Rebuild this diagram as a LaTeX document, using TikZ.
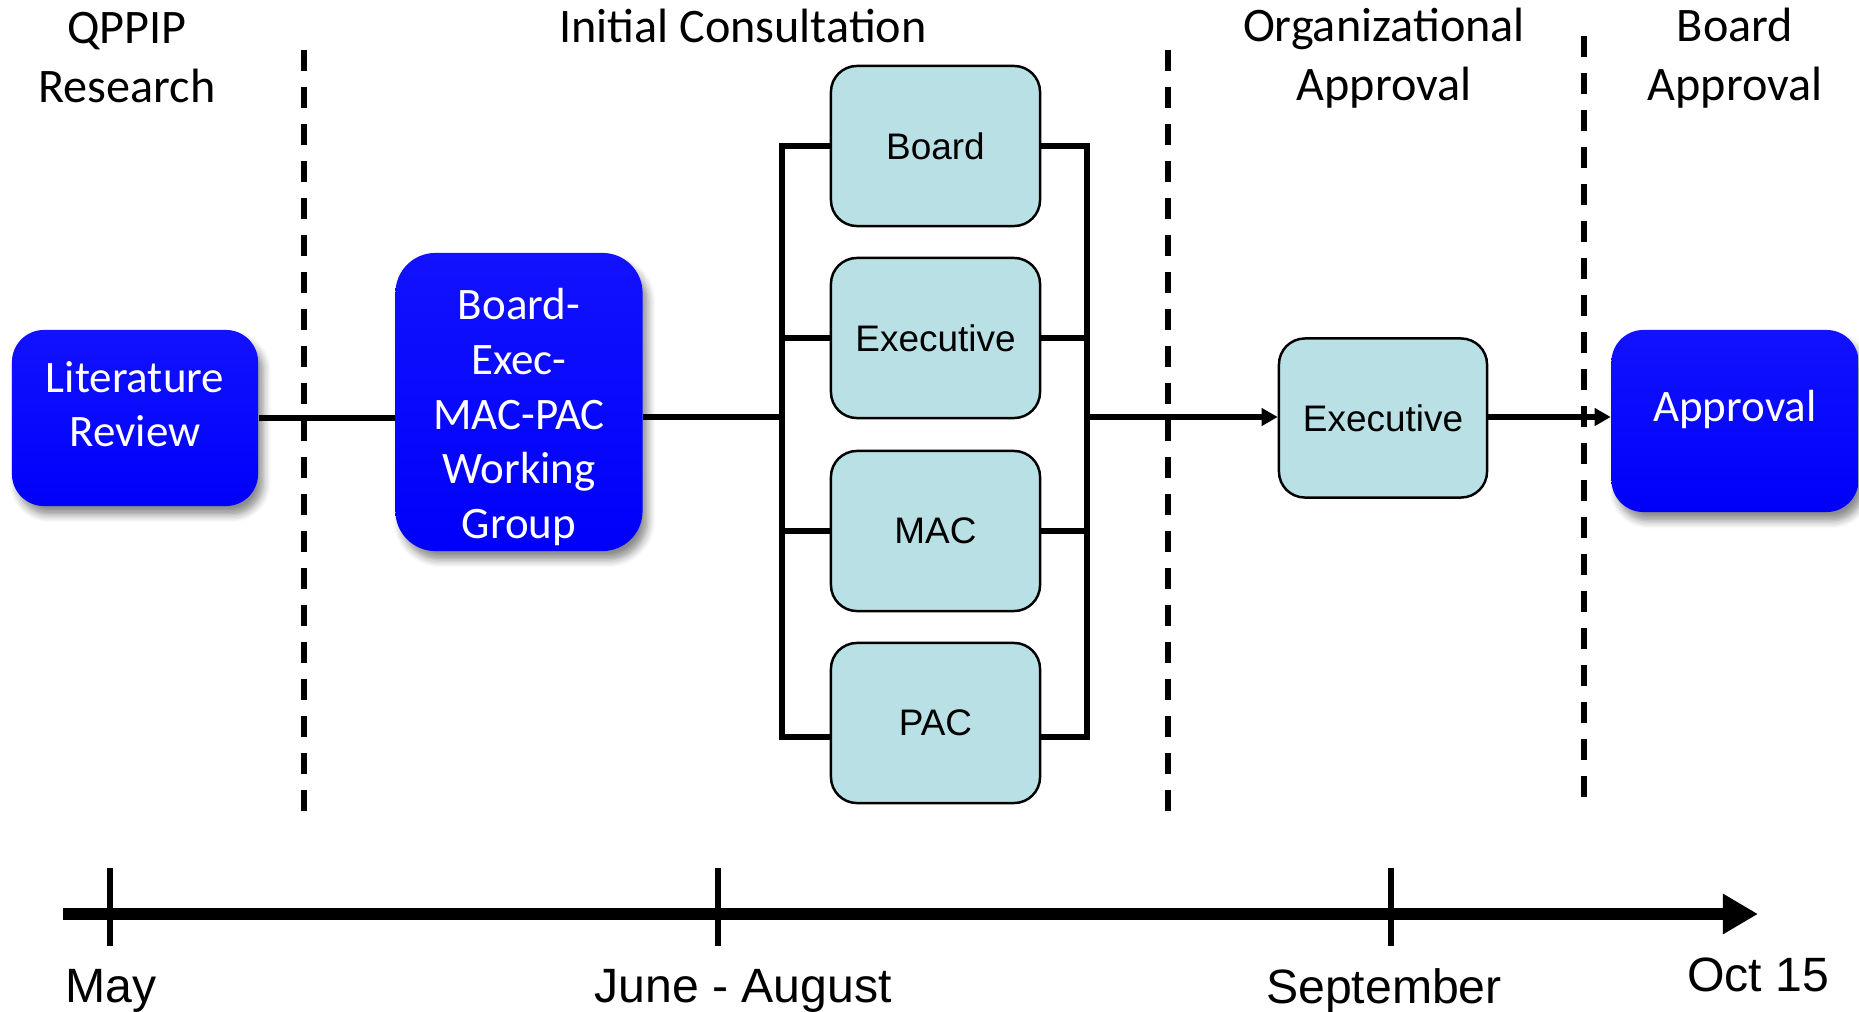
\documentclass[tikz,border=0pt]{standalone}
\usepackage{fontspec}
\setmainfont{Liberation Sans}
\newfontfamily\calib{Carlito}
\usetikzlibrary{arrows.meta,shadows.blur}
\definecolor{boxblue}{RGB}{0,0,250}
\definecolor{boxbluetop}{RGB}{18,18,255}
\definecolor{paleteal}{RGB}{185,224,228}

\begin{document}
\begin{tikzpicture}[x=0.01cm,y=-0.01cm,
  bluebox/.style={rectangle, rounded corners=0.32cm, top color=boxbluetop, bottom color=boxblue,
    inner sep=0pt,
    blur shadow={shadow xshift=1.5pt, shadow yshift=-2.5pt, shadow blur steps=6, shadow opacity=45}},
  bluetext/.style={text=white, font=\calib\fontsize{12.8}{15.5}\selectfont, align=center, inner sep=0pt},
  tealbox/.style={rectangle, rounded corners=0.26cm, draw=black, line width=0.7pt, fill=paleteal,
    font=\fontsize{10.5}{12}\selectfont, minimum width=2.09cm, minimum height=1.6cm, inner sep=0pt},
  link/.style={line width=1.5pt, line join=miter},
  flow/.style={line width=1.5pt, -{Triangle[length=0.16cm, width=0.17cm]}},
  divider/.style={line width=1.45pt, dash pattern=on 0.21cm off 0.16cm},
  phase/.style={font=\calib\fontsize{13.7}{16.8}\selectfont, align=center},
  month/.style={font=\fontsize{13.7}{16}\selectfont},
  tick/.style={line width=1.8pt},
]
\useasboundingbox (0,0) rectangle (1859,1012);

% phase headings
\node[phase] (hq) at (127,58) {QPPIP\\Research};
\node[phase] (hi) at (743,26) {Initial Consultation};
\node[phase] (ho) at (1384,58) {Organizational\\Approval};
\node[phase] (hb) at (1735,58) {Board\\Approval};

% phase dividers
\coordinate (d1t) at (304,50);   \coordinate (d1b) at (304,818);
\coordinate (d2t) at (1168,50);  \coordinate (d2b) at (1168,818);
\coordinate (d3t) at (1584,36);  \coordinate (d3b) at (1584,803);
\draw[divider] (d1t) -- (d1b);
\draw[divider] (d2t) -- (d2b);
\draw[divider] (d3t) -- (d3b);

% process boxes
\node[bluebox, minimum width=2.46cm, minimum height=1.76cm] (lit) at (135,418) {};
\node[bluetext] (littext) at (135,404) {Literature\\Review};
\node[bluebox, minimum width=2.47cm, minimum height=2.98cm, rounded corners=0.4cm] (wg) at (519,402) {};
\node[bluetext] (wgtext) at (519,417) {Board-\\Exec-\\MAC-PAC\\Working\\Group};
\node[tealbox] (board) at (935.5,146) {Board};
\node[tealbox] (exec)  at (935.5,338) {Executive};
\node[tealbox] (mac)   at (935.5,531) {MAC};
\node[tealbox] (pac)   at (935.5,723) {PAC};
\node[tealbox, minimum width=2.08cm, minimum height=1.59cm] (exec2) at (1383,418) {Executive};
\node[bluebox, minimum width=2.47cm, minimum height=1.82cm] (appr) at (1735,421) {};
\node[bluetext] (apprtext) at (1735,409) {Approval};

% connectors
\coordinate (busL) at (782,417);
\coordinate (busR) at (1087,417);
\coordinate (busLt) at (782,146);
\coordinate (busLb) at (782,737);
\coordinate (busRt) at (1087,146);
\coordinate (busRb) at (1087,737);

\draw[link] (lit.east) -- (lit.east -| wg.west);
\draw[link] (wg.east |- busL) -- (busL);
\draw[link] (board.west) -- (busLt) -- (busLb) -- (busLb -| pac.west);
\draw[link] (exec.west) -- (exec.west -| busL);
\draw[link] (mac.west) -- (mac.west -| busL);
\draw[link] (board.east) -- (busRt) -- (busRb) -- (busRb -| pac.east);
\draw[link] (exec.east) -- (exec.east -| busR);
\draw[link] (mac.east) -- (mac.east -| busR);
\draw[flow] (busR) -- (busR -| exec2.west);
\draw[flow] (exec2.east |- busR) -- (busR -| appr.west);

% timeline
\coordinate (t0) at (63,914);
\coordinate (t1) at (1758,914);
\draw[line width=0.12cm, -{Triangle[length=0.35cm, width=0.38cm]}] (t0) -- (t1);
\coordinate (k1t) at (110,868);  \coordinate (k1b) at (110,946);
\coordinate (k2t) at (718,868);  \coordinate (k2b) at (718,946);
\coordinate (k3t) at (1391,868); \coordinate (k3b) at (1391,946);
\draw[tick] (k1t) -- (k1b);
\draw[tick] (k2t) -- (k2b);
\draw[tick] (k3t) -- (k3b);

\node[month] (may) at (111,991) {May};
\node[month] (jun) at (743,991) {June - August};
\node[month] (sep) at (1384,991) {September};
\node[month] (oct) at (1758,975) {Oct 15};
\end{tikzpicture}
\end{document}
